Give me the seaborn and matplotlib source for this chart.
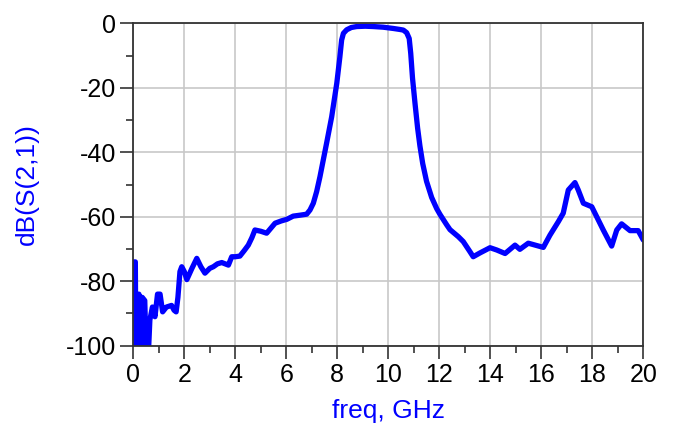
import numpy as np
import pandas as pd
import matplotlib
matplotlib.use("Agg")
import matplotlib.pyplot as plt
import seaborn as sns
from matplotlib.ticker import MultipleLocator

freq_ghz = [
    0.02, 0.08, 0.10, 0.18, 0.22, 0.30, 0.35, 0.45, 0.50, 0.60,
    0.65, 0.75, 0.85, 0.95, 1.05, 1.15, 1.30, 1.50, 1.60, 1.68,
    1.75, 1.83, 1.90, 2.00, 2.10, 2.30, 2.49, 2.65, 2.81, 3.00,
    3.14, 3.30, 3.47, 3.60, 3.73, 3.86, 4.00, 4.18, 4.35, 4.51,
    4.65, 4.77, 5.00, 5.23, 5.40, 5.56, 5.80, 6.02, 6.27, 6.55,
    6.80, 6.93, 7.06, 7.19, 7.32, 7.45, 7.58, 7.78, 7.98, 8.10,
    8.17, 8.24, 8.37, 8.55, 8.76, 9.10, 9.41, 9.80, 10.20, 10.45,
    10.59, 10.72, 10.82, 10.88, 10.95, 11.05, 11.15, 11.24, 11.35, 11.50,
    11.70, 11.90, 12.03, 12.29, 12.42, 12.75, 12.94, 13.20, 13.33, 13.60,
    13.99, 14.25, 14.58, 14.97, 15.16, 15.49, 16.08, 16.34, 16.67, 16.86,
    17.06, 17.32, 17.45, 17.65, 17.98, 18.43, 18.76, 18.96, 19.15, 19.48,
    19.80, 20.00,
]
s21_db = [
    -74.0, -74.0, -101.0, -101.0, -84.0, -101.0, -85.0, -86.0, -101.0, -101.0,
    -92.0, -88.0, -91.0, -84.0, -84.0, -89.5, -88.0, -87.5, -89.0, -89.5,
    -85.0, -77.0, -75.5, -77.0, -79.5, -76.0, -72.9, -75.5, -77.5, -76.0,
    -75.5, -74.6, -74.2, -74.6, -75.0, -72.4, -72.4, -72.2, -70.5, -68.8,
    -66.5, -64.1, -64.5, -65.1, -63.5, -62.0, -61.3, -60.8, -59.8, -59.5,
    -59.2, -57.9, -55.8, -52.2, -47.6, -42.4, -37.2, -29.0, -18.6, -10.5,
    -5.2, -3.1, -2.0, -1.3, -1.0, -0.9, -1.0, -1.2, -1.6, -1.9,
    -2.1, -2.9, -4.7, -9.3, -17.0, -25.0, -32.5, -38.0, -43.5, -49.0,
    -54.0, -57.5, -59.3, -62.5, -64.0, -66.2, -67.7, -70.8, -72.4, -71.2,
    -69.6, -70.3, -71.4, -68.8, -70.1, -68.2, -69.5, -65.7, -61.5, -58.9,
    -51.7, -49.4, -51.7, -55.8, -56.9, -64.1, -69.1, -64.1, -62.2, -64.3,
    -64.3, -67.2,
]

df = pd.DataFrame({"freq": freq_ghz, "s21": s21_db})

sns.set_style("white")
plt.rcParams["font.family"] = ["Liberation Sans", "DejaVu Sans"]
plt.rcParams["axes.unicode_minus"] = False

fig = plt.figure(figsize=(6.78, 4.45), dpi=100)
ax = fig.add_axes([0.1966, 0.2231, 0.7522, 0.7245])

sns.lineplot(data=df, x="freq", y="s21", ax=ax, sort=False, estimator=None,
             color="#0000ff", linewidth=3.8, solid_joinstyle="round")

ax.set_xlim(0, 20)
ax.set_ylim(-100, 0)
ax.xaxis.set_major_locator(MultipleLocator(2))
ax.xaxis.set_minor_locator(MultipleLocator(1))
ax.yaxis.set_major_locator(MultipleLocator(20))
ax.yaxis.set_minor_locator(MultipleLocator(10))
ax.grid(True, which="major", color="#c8c8c8", linewidth=1.2)
ax.set_axisbelow(True)

ax.tick_params(which="major", direction="out", length=9.5, width=1.2,
               labelsize=18, color="#333333", labelcolor="black",
               bottom=True, left=True, top=False, right=False, pad=3)
ax.tick_params(which="minor", direction="out", length=5, width=1.2,
               color="#333333", bottom=True, left=True, top=False, right=False)
for sp in ax.spines.values():
    sp.set_color("#333333")
    sp.set_linewidth(1.3)

ax.set_xlabel("freq, GHz", color="#0000ff", fontsize=19)
ax.set_ylabel("dB(S(2,1))", color="#0000ff", fontsize=19)
ax.xaxis.set_label_coords(0.5, -0.165)
ax.yaxis.set_label_coords(-0.185, 0.5)

fig.savefig("out.png", dpi=100)
